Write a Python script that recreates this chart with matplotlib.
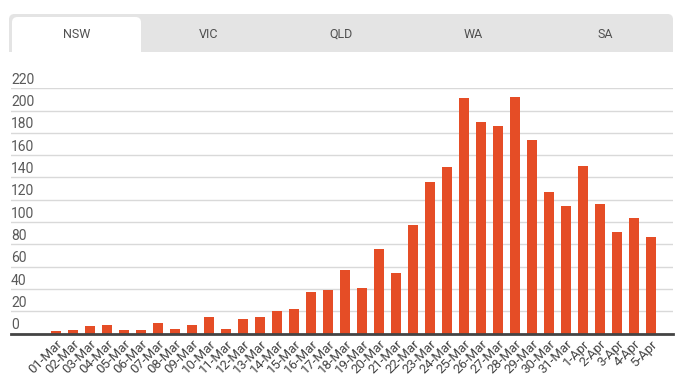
import matplotlib
matplotlib.use('Agg')
import matplotlib.pyplot as plt
from matplotlib.patches import FancyBboxPatch, Rectangle

plt.rcParams['font.family'] = ['Roboto', 'DejaVu Sans']

tabs = ['NSW', 'VIC', 'QLD', 'WA', 'SA']
dates = ['01-Mar', '02-Mar', '03-Mar', '04-Mar', '05-Mar', '06-Mar', '07-Mar',
         '08-Mar', '09-Mar', '10-Mar', '11-Mar', '12-Mar', '13-Mar', '14-Mar',
         '15-Mar', '16-Mar', '17-Mar', '18-Mar', '19-Mar', '20-Mar', '21-Mar',
         '22-Mar', '23-Mar', '24-Mar', '25-Mar', '26-Mar', '27-Mar', '28-Mar',
         '29-Mar', '30-Mar', '31-Mar', '1-Apr', '2-Apr', '3-Apr', '4-Apr', '5-Apr']
cases = [2, 3, 7, 8, 3, 3, 9, 4, 8, 15, 4, 13, 15, 20,
         22, 37, 39, 57, 41, 76, 54, 97, 136, 149, 211, 190, 186, 212,
         174, 127, 114, 150, 116, 91, 104, 87]
yticks = [0, 20, 40, 60, 80, 100, 120, 140, 160, 180, 200, 220]

W, H = 684, 383
fig = plt.figure(figsize=(W / 100, H / 100), dpi=100)

# tab strip
def fx(px):
    return px / W

def fy(py):
    return 1 - py / H

strip = FancyBboxPatch((fx(9), fy(52)), fx(673) - fx(9), fy(14) - fy(52),
                       boxstyle='round,pad=0,rounding_size=0.008',
                       transform=fig.transFigure, facecolor='#e4e4e4',
                       edgecolor='none', mutation_aspect=W / H)
fig.patches.append(strip)
fig.patches.append(Rectangle((fx(9), fy(52)), fx(673) - fx(9), fy(40) - fy(52),
                             transform=fig.transFigure, facecolor='#e4e4e4',
                             edgecolor='none'))
active = FancyBboxPatch((fx(12), fy(52)), fx(141) - fx(12), fy(17) - fy(52),
                        boxstyle='round,pad=0,rounding_size=0.008',
                        transform=fig.transFigure, facecolor='white',
                        edgecolor='none', mutation_aspect=W / H)
fig.patches.append(active)
fig.patches.append(Rectangle((fx(12), fy(52)), fx(141) - fx(12), fy(40) - fy(52),
                             transform=fig.transFigure, facecolor='white',
                             edgecolor='none'))
for i, t in enumerate(tabs):
    fig.text(fx(77 + 132 * i), fy(34), t, ha='center', va='center',
             fontsize=9, color='#505050')

# chart
ax = fig.add_axes([fx(11), fy(333.5), fx(673) - fx(11), fy(88.3) - fy(333.5)])
x = list(range(len(dates)))
ax.bar(x, cases, width=0.59, color='#e54d26', zorder=3)
ax.set_xlim((11 - 56) / 17, (673 - 56) / 17)
ax.set_ylim(0, 220)
ax.set_yticks(yticks)
ax.yaxis.grid(True, color='#d9d9d9', linewidth=1)
ax.tick_params(axis='y', length=0, labelleft=False)
for v in yticks:
    ax.annotate(str(v), xy=(0, v), xycoords=('axes fraction', 'data'),
                xytext=(0, 1), textcoords='offset points',
                ha='left', va='bottom', fontsize=10, color='#5a5a5a')
ax.set_xticks(x)
ax.set_xticklabels(dates, rotation=45, ha='right', rotation_mode='anchor',
                   fontsize=9.5, color='#444444')
ax.tick_params(axis='x', length=0, pad=3)
for s in ['top', 'left', 'right']:
    ax.spines[s].set_visible(False)
ax.spines['bottom'].set_color('#444444')
ax.spines['bottom'].set_linewidth(2)
ax.spines['bottom'].set_zorder(4)

fig.savefig('out.png', dpi=100)
